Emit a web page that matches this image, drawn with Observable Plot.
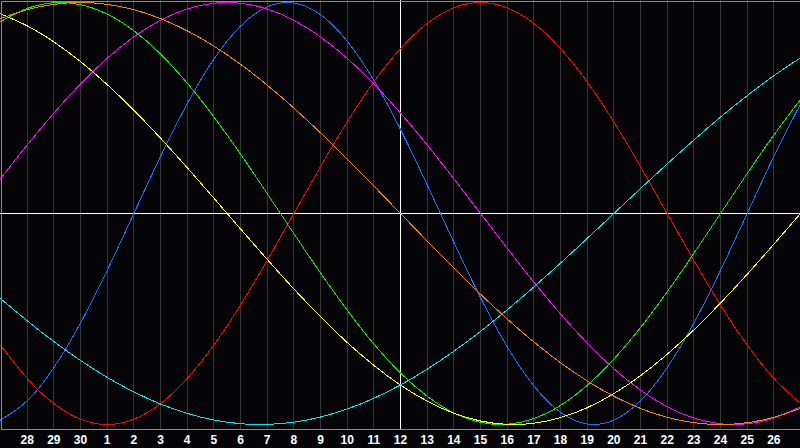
<!DOCTYPE html>
<html>
<head>
<meta charset="utf-8">
<script src="https://cdn.jsdelivr.net/npm/d3@7"></script>
<script src="https://cdn.jsdelivr.net/npm/@observablehq/plot@0.6"></script>
<style>
  html, body { margin: 0; padding: 0; background: #050507; overflow: hidden; }
</style>
</head>
<body>
<div id="chart"></div>
<script>
// Day index along the x axis (0 = 27th of the previous month, 15 = today, the 12th)
const days = [0,1,2,3,4,5,6,7,8,9,10,11,12,13,14,15,16,17,18,19,20,21,22,23,24,25,26,27,28,29,30];
const tickDays = [1,2,3,4,5,6,7,8,9,10,11,12,13,14,15,16,17,18,19,20,21,22,23,24,25,26,27,28,29];
const tickLabels = ["28","29","30","1","2","3","4","5","6","7","8","9","10","11","12","13","14","15","16","17","18","19","20","21","22","23","24","25","26"];
const todayIndex = 15;

// Cycle values (range -1 .. 1), one per day
const physical = [-0.9791,-0.8879,-0.7308,-0.5196,-0.2698,0,0.2698,0.5196,0.7308,0.8879,0.9791,0.9977,0.9423,0.8170,0.6311,0.3984,0.1362,-0.1362,-0.3984,-0.6311,-0.8170,-0.9423,-0.9977,-0.9791,-0.8879,-0.7308,-0.5196,-0.2698,0,0.2698,0.5196];
const emotional = [-0.6235,-0.7818,-0.9010,-0.9749,-1,-0.9749,-0.9010,-0.7818,-0.6235,-0.4339,-0.2225,0,0.2225,0.4339,0.6235,0.7818,0.9010,0.9749,1,0.9749,0.9010,0.7818,0.6235,0.4339,0.2225,0,-0.2225,-0.4339,-0.6235,-0.7818,-0.9010];
const intellectual = [0.9096,0.9718,0.9989,0.9898,0.9450,0.8660,0.7557,0.6182,0.4582,0.2817,0.0951,-0.0951,-0.2817,-0.4582,-0.6182,-0.7557,-0.8660,-0.9450,-0.9898,-0.9989,-0.9718,-0.9096,-0.8146,-0.6901,-0.5406,-0.3717,-0.1893,0,0.1893,0.3717,0.5406];
const intuitive = [0.1646,0.3247,0.4759,0.6142,0.7357,0.8372,0.9158,0.9694,0.9966,0.9966,0.9694,0.9158,0.8372,0.7357,0.6142,0.4759,0.3247,0.1646,0,-0.1646,-0.3247,-0.4759,-0.6142,-0.7357,-0.8372,-0.9158,-0.9694,-0.9966,-0.9966,-0.9694,-0.9158];
const aesthetic = [0.9464,0.8893,0.8133,0.7199,0.6112,0.4894,0.3572,0.2174,0.0730,-0.0730,-0.2174,-0.3572,-0.4894,-0.6112,-0.7199,-0.8133,-0.8893,-0.9464,-0.9834,-0.9993,-0.9940,-0.9675,-0.9204,-0.8536,-0.7686,-0.6673,-0.5518,-0.4245,-0.2881,-0.1456,0];
const awareness = [0.9239,0.9659,0.9914,1,0.9914,0.9659,0.9239,0.8660,0.7934,0.7071,0.6088,0.5,0.3827,0.2588,0.1305,0,-0.1305,-0.2588,-0.3827,-0.5,-0.6088,-0.7071,-0.7934,-0.8660,-0.9239,-0.9659,-0.9914,-1,-0.9914,-0.9659,-0.9239];
const spiritual = [-0.4031,-0.5085,-0.6068,-0.6966,-0.7765,-0.8456,-0.9028,-0.9473,-0.9786,-0.9961,-0.9996,-0.9890,-0.9646,-0.9267,-0.8757,-0.8125,-0.7378,-0.6528,-0.5587,-0.4566,-0.3482,-0.2349,-0.1183,0,0.1183,0.2349,0.3482,0.4566,0.5587,0.6528,0.7378];

const seriesNames = ["physical","emotional","intellectual","intuitive","aesthetic","awareness","spiritual"];
const seriesValues = [physical, emotional, intellectual, intuitive, aesthetic, awareness, spiritual];
const seriesColors = ["#1f6dff","#ff0000","#00ee00","#ff00ff","#ffff00","#ff8000","#00e8e8"];

const rows = seriesNames.flatMap((name, s) =>
  days.map((d, j) => ({day: d, value: seriesValues[s][j], name}))
);

const chart = Plot.plot({
  width: 800,
  height: 448,
  marginTop: 0,
  marginRight: 0,
  marginBottom: 19,
  marginLeft: 0,
  style: {
    background: "#050507",
    color: "#ffffff",
    fontFamily: "'Liberation Sans', Arial, sans-serif",
    fontSize: "12px",
    fontWeight: "bold"
  },
  x: {domain: [0, 30], range: [0, 800], axis: null, label: null},
  y: {domain: [-1, 1], range: [424, 2], axis: null, label: null},
  color: {domain: seriesNames, range: seriesColors},
  marks: [
    Plot.ruleX(tickDays.filter(d => d !== todayIndex), {stroke: "#363636", shapeRendering: "crispEdges"}),
    Plot.ruleX([todayIndex], {stroke: "#ffffff", shapeRendering: "crispEdges"}),
    Plot.ruleY([0], {stroke: "#ffffff", shapeRendering: "crispEdges"}),
    Plot.line(rows, {x: "day", y: "value", z: "name", stroke: "name", curve: "natural", strokeWidth: 1, shapeRendering: "crispEdges"}),
    Plot.frame({stroke: "#8c8c8c", inset: 0.5, shapeRendering: "crispEdges"}),
    Plot.axisX(tickDays, {
      anchor: "bottom",
      label: null,
      tickSize: 0,
      tickPadding: 6,
      tickFormat: d => tickLabels[tickDays.indexOf(d)],
      fill: "#ffffff",
      fontWeight: "bold"
    })
  ]
});

document.getElementById("chart").appendChild(chart);
</script>
</body>
</html>
